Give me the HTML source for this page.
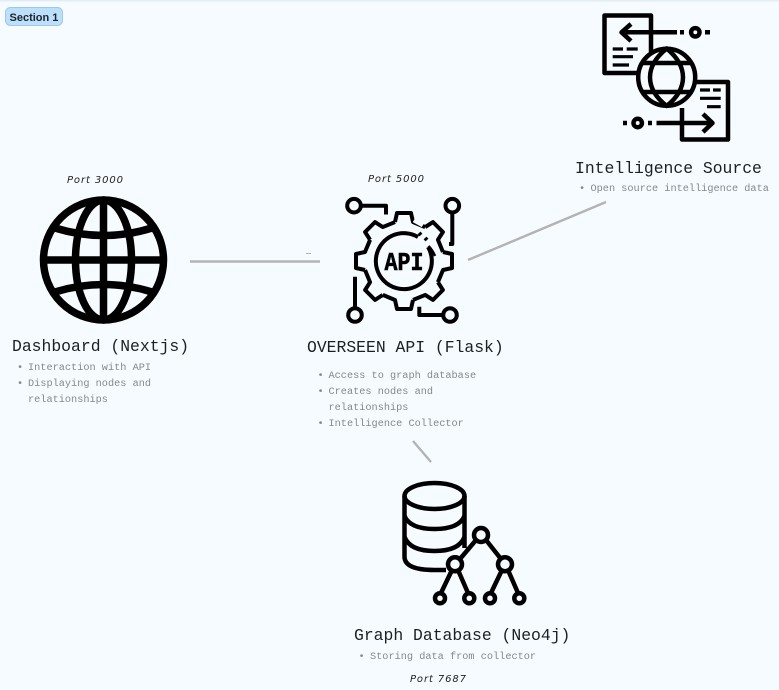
<!DOCTYPE html>
<html><head><meta charset="utf-8">
<style>
html,body{margin:0;padding:0;width:779px;height:690px;overflow:hidden;background:#f6fbff}
svg{display:block}
.t{font-family:"Liberation Mono",monospace;font-size:16.4px;fill:#1c2024}
.b{font-family:"Liberation Mono",monospace;font-size:10.25px;fill:#85898c}
.p{font-family:"DejaVu Sans",sans-serif;font-style:italic;font-size:10px;letter-spacing:.9px;fill:#222}
.i{fill:none;stroke:#000;stroke-linecap:butt;stroke-linejoin:round}
.c{stroke:#b3b3b3;stroke-width:2.4;fill:none}
</style></head><body>
<svg width="779" height="690" viewBox="0 0 779 690" xmlns="http://www.w3.org/2000/svg">
<rect width="779" height="690" fill="#f6fbff"/>
<rect width="779" height="1.5" fill="#e3edf5"/>
<rect x="5.5" y="7.5" width="57" height="18" rx="5" fill="#bcdffa" stroke="#9cc8ee"/>
<text x="9.500" y="21" font-family="Liberation Sans,sans-serif" font-size="11" font-weight="bold" fill="#1c2530">Section 1</text>

<!-- connectors -->
<path class="c" d="M190 261.5H320M468 260L606 202M413 441L431 462"/>
<path d="M306 253.5H311" stroke="#b3b3b3" stroke-width="1"/>

<!-- Globe -->
<g class="i" stroke-width="7.500">
<circle cx="103.500" cy="260" r="60"/>
<ellipse cx="103.500" cy="260" rx="28" ry="60"/>
<path d="M103.500 200V320M44 260H163"/>
<path d="M55 228Q103.500 243 152 228M55 292Q103.500 277 152 292"/>
</g>

<!-- Intelligence icon -->
<g class="i" stroke-width="4.500">
<path d="M651 52V15.5H604.500V73H640"/>
<path d="M682 108V139.500H728V82H692"/>
<circle cx="666.700" cy="77.300" r="28.500" fill="#f6fbff"/>
<path d="M666.700 48.500Q650 62 650 77.300Q650 93 666.700 106Q683 93 683 77.300Q683 62 666.700 48.500Z"/>
<path d="M643 63H690M643 92H690"/>
<path d="M677 32.300H622M631 24L621.500 32.300L631 41"/>
<path d="M656.500 123H711M703 114L712.500 123L703 132"/>
<circle cx="695.300" cy="32.300" r="4.200"/>
<circle cx="637.700" cy="123" r="4.200"/>
<path d="M680 32.300H684M705 32.300H710M623 123H627M648 123H652"/>
<path stroke-width="3.200" d="M612.700 49H623M626.700 49H637.700M612.700 56.700H633M612.700 65H629M700 90H710M713 90H720.700M700 98.300H720.700M707 106.700H720.700"/>
</g>

<!-- API gear -->
<g class="i" stroke-width="4" transform="translate(404 261)">
<path id="s" d="M-9-39L-7-48H7L9-39L21.200-33.900"/>
<use href="#s" transform="rotate(45)"/>
<use href="#s" transform="rotate(90)"/>
<use href="#s" transform="rotate(135)"/>
<use href="#s" transform="rotate(180)"/>
<use href="#s" transform="rotate(225)"/>
<use href="#s" transform="rotate(270)"/>
<use href="#s" transform="rotate(315)"/>
<path d="M14-24A28 28 0 1 0 24-14"/>
<path d="M24.500-15A33 33 0 0 1 31-5" stroke-width="2.500"/>
<path d="M15-28L17-26M21-23L23-21"/>
</g>
<path d="M414 220L423 225" stroke="#f6fbff" stroke-width="5"/>
<text x="404" y="270" text-anchor="middle" font-family="Liberation Mono,monospace" font-weight="bold" font-size="26" textLength="39" lengthAdjust="spacingAndGlyphs" fill="#000" stroke="#000" stroke-width=".6">API</text>
<g class="i" stroke-width="4">
<circle cx="354" cy="205.700" r="6.800"/>
<circle cx="452.300" cy="205.700" r="6.800"/>
<circle cx="355" cy="315" r="6.800"/>
<circle cx="450" cy="315" r="6.800"/>
<path d="M361 205.700H386V214.500M452.300 212.500V244H449M355 308V276.700M443 315H419.300V306.700"/>
</g>

<!-- DB -->
<g class="i" stroke-width="4.500">
<ellipse cx="434.500" cy="496" rx="30" ry="13"/>
<path d="M404.500 496V557Q405 570 434.500 570H446M464.500 496V548"/>
<path d="M404.500 516Q410 529 434.500 529Q459 529 464.500 516M404.500 537Q410 551 434.500 551Q459 551 464.500 537"/>
<path d="M476 540L460 559M486 540L501 559M452 570L441 593M458 570L468 593M502 570L491 593M508 570L518 593"/>
<circle cx="481" cy="535" r="7"/>
<circle cx="455" cy="564.300" r="7" fill="#f6fbff"/>
<circle cx="505" cy="564.300" r="7"/>
<circle cx="440" cy="598.300" r="5"/>
<circle cx="469.300" cy="598.300" r="5"/>
<circle cx="490" cy="598.300" r="5"/>
<circle cx="519.300" cy="598.300" r="5"/>
</g>

<!-- ports -->
<text class="p" x="67" y="183">Port 3000</text>
<text class="p" x="368" y="182">Port 5000</text>
<text class="p" x="410" y="682">Port 7687</text>

<!-- titles -->
<text class="t" x="12" y="351">Dashboard (Nextjs)</text>
<text class="t" x="307" y="352">OVERSEEN API (Flask)</text>
<text class="t" x="575" y="173">Intelligence Source</text>
<text class="t" x="354" y="640">Graph Database (Neo4j)</text>

<!-- bullets -->
<g class="b">
<text x="17" y="370">•<tspan x="28">Interaction with API</tspan></text>
<text x="17" y="386">•<tspan x="28">Displaying nodes and</tspan></text>
<text x="28" y="402">relationships</text>
<text x="317.500" y="378">•<tspan x="328.500">Access to graph database</tspan></text>
<text x="317.500" y="394">•<tspan x="328.500">Creates nodes and</tspan></text>
<text x="328.500" y="410">relationships</text>
<text x="317.500" y="426">•<tspan x="328.500">Intelligence Collector</tspan></text>
<text x="579" y="191">•<tspan x="590.500">Open source intelligence data</tspan></text>
<text x="358.500" y="659">•<tspan x="370">Storing data from collector</tspan></text>
</g>
</svg>
</body></html>
